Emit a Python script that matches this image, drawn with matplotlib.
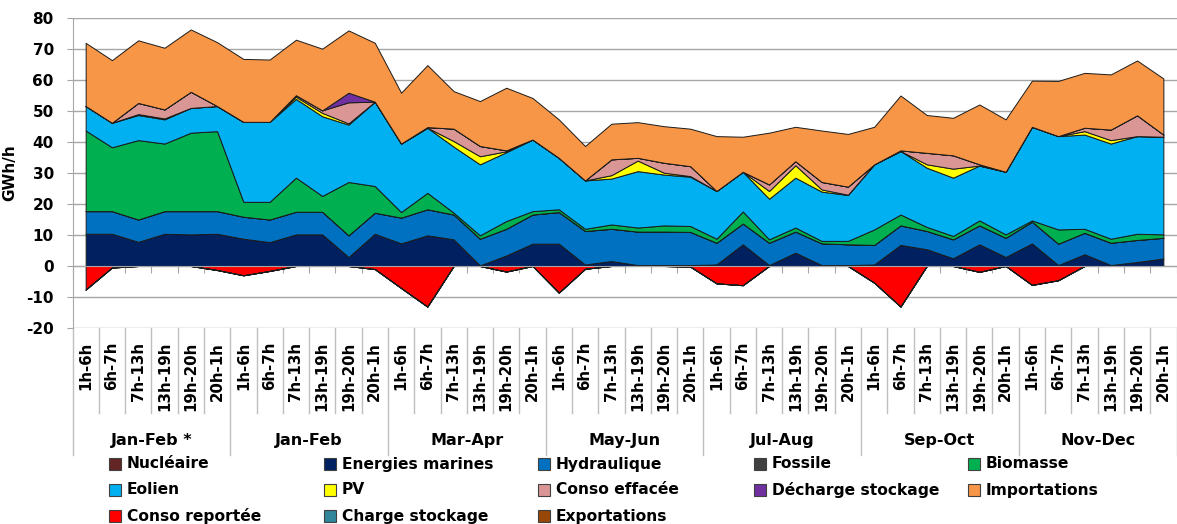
import numpy as np
import matplotlib.pyplot as plt
from matplotlib.patches import Rectangle
from matplotlib.transforms import blended_transform_factory

plt.rcParams['font.family'] = ['DejaVu Sans']
plt.rcParams['font.weight'] = 'bold'
plt.rcParams['axes.unicode_minus'] = False

# Catégories
groupes = ["Jan-Feb *", "Jan-Feb", "Mar-Apr", "May-Jun", "Jul-Aug", "Sep-Oct", "Nov-Dec"]
plages = ["1h-6h", "6h-7h", "7h-13h", "13h-19h", "19h-20h", "20h-1h"]

# Séries positives (GWh/h), 42 valeurs = 7 groupes x 6 plages
nucleaire = [0.0] * 42
energies_marines = [10.4, 10.4, 7.8, 10.4, 10.2, 10.4,
                    8.8, 7.7, 10.2, 10.2, 2.9, 10.4,
                    7.3, 9.9, 8.6, 0.2, 3.4, 7.2,
                    7.2, 0.5, 1.6, 0.3, 0.3, 0.3,
                    0.5, 7.0, 0.3, 4.3, 0.3, 0.3,
                    0.5, 6.8, 5.4, 2.5, 7.0, 2.9,
                    7.3, 0.3, 3.8, 0.3, 1.3, 2.4]
hydraulique = [7.3, 7.3, 7.2, 7.3, 7.5, 7.3,
               7.1, 7.3, 7.3, 7.3, 7.0, 6.8,
               8.3, 8.4, 8.0, 8.6, 8.6, 9.4,
               10.2, 10.8, 10.4, 10.8, 10.8, 10.7,
               7.0, 6.7, 7.2, 6.8, 7.0, 6.7,
               6.3, 6.3, 5.9, 6.1, 6.1, 6.2,
               7.0, 6.9, 6.9, 7.2, 7.1, 6.7]
fossile = [0.0] * 42
biomasse = [26.0, 20.6, 25.6, 21.8, 25.3, 25.8,
            4.8, 5.7, 11.0, 5.1, 17.2, 8.6,
            1.8, 5.3, 0.6, 1.1, 2.5, 1.1,
            0.9, 0.7, 1.4, 1.3, 2.0, 1.9,
            1.3, 3.9, 1.1, 1.3, 0.8, 1.1,
            5.0, 3.5, 1.3, 1.1, 1.6, 1.1,
            0.4, 4.6, 1.3, 1.3, 2.0, 1.1]
eolien = [7.9, 7.9, 8.1, 7.8, 8.0, 8.1,
          25.8, 25.8, 25.4, 25.7, 18.5, 27.2,
          22.1, 21.0, 21.3, 22.9, 22.2, 23.1,
          16.6, 15.6, 14.8, 18.2, 16.4, 15.9,
          15.4, 12.8, 13.1, 16.1, 15.9, 14.8,
          21.0, 20.5, 19.1, 18.8, 17.7, 20.2,
          30.2, 30.1, 30.4, 30.7, 31.5, 31.5]
pv = [0.0, 0.0, 0.3, 0.3, 0.0, 0.0,
      0.0, 0.0, 0.7, 1.1, 0.4, 0.0,
      0.0, 0.0, 1.8, 2.6, 0.3, 0.0,
      0.0, 0.0, 1.1, 3.4, 0.6, 0.2,
      0.0, 0.0, 2.5, 4.0, 0.7, 0.1,
      0.0, 0.0, 1.1, 2.9, 0.0, 0.0,
      0.0, 0.0, 1.1, 1.1, 0.0, 0.0]
conso_effacee = [0.0, 0.0, 3.6, 2.9, 5.2, 0.0,
                 0.0, 0.0, 0.5, 0.8, 6.8, 0.0,
                 0.0, 0.2, 4.0, 3.3, 0.3, 0.0,
                 0.0, 0.0, 5.1, 0.9, 3.2, 3.2,
                 0.0, 0.0, 2.1, 1.3, 2.4, 2.6,
                 0.0, 0.2, 3.7, 4.3, 0.4, 0.0,
                 0.0, 0.0, 1.1, 3.4, 6.7, 0.7]
decharge_stockage = [0.0] * 10 + [3.1] + [0.0] * 31
importations = [20.4, 20.2, 20.2, 19.9, 20.1, 20.6,
                20.3, 20.1, 17.9, 19.9, 20.1, 19.0,
                16.4, 20.0, 12.1, 14.5, 20.2, 13.4,
                12.4, 11.1, 11.5, 11.5, 11.8, 12.1,
                17.7, 11.3, 16.7, 11.1, 16.6, 17.0,
                12.1, 17.7, 12.2, 12.1, 19.3, 16.9,
                14.9, 17.8, 17.7, 17.8, 17.7, 18.1]

# Séries négatives
conso_reportee = [-7.6, -0.5, 0.0, 0.0, 0.0, -1.3,
                  -3.0, -1.6, 0.0, 0.0, 0.0, -1.0,
                  -7.1, -13.1, 0.0, 0.0, -1.8, 0.0,
                  -8.6, -0.9, 0.0, 0.0, 0.0, -0.2,
                  -5.6, -6.2, 0.0, 0.0, 0.0, 0.0,
                  -5.4, -13.1, 0.0, 0.0, -1.9, 0.0,
                  -6.1, -4.6, 0.0, 0.0, 0.0, 0.0]
charge_stockage = [0.0] * 42
exportations = [0.0] * 42

noms_pos = ["Nucléaire", "Energies marines", "Hydraulique", "Fossile", "Biomasse",
            "Eolien", "PV", "Conso effacée", "Décharge stockage", "Importations"]
couleurs_pos = ["#632523", "#002060", "#0070C0", "#404040", "#00B050",
                "#00B0F0", "#FFFF00", "#DA9694", "#7030A0", "#F79646"]
noms_neg = ["Conso reportée", "Charge stockage", "Exportations"]
couleurs_neg = ["#FF0000", "#31869B", "#974706"]

n = len(groupes) * len(plages)
x = np.arange(n)

fig = plt.figure(figsize=(11.77, 5.24), dpi=100)
ax = fig.add_axes([72.5 / 1177, 1 - 328 / 524, 1104 / 1177, 310 / 524])

ax.stackplot(x, nucleaire, energies_marines, hydraulique, fossile, biomasse,
             eolien, pv, conso_effacee, decharge_stockage, importations,
             colors=couleurs_pos, edgecolor="#1a1a1a", linewidth=0.7)
ax.stackplot(x, conso_reportee, charge_stockage, exportations,
             colors=couleurs_neg, edgecolor="#1a1a1a", linewidth=0.7)

ax.set_xlim(-0.5, n - 0.5)
ax.set_ylim(-20, 80)
ax.set_yticks(np.arange(-20, 81, 10))
ax.tick_params(axis="y", length=4.5, color="#a6a6a6", labelsize=11, pad=9)
ax.grid(axis="y", color="#a6a6a6", linewidth=1)
ax.set_axisbelow(True)
ax.set_ylabel("GWh/h", fontsize=11, fontweight="bold")
ax.yaxis.set_label_coords(-55 / 1104, 0.5)

# axe horizontal à 0 avec petites graduations
for s in ["top", "right"]:
    ax.spines[s].set_visible(False)
ax.spines["left"].set_color("#a6a6a6")
ax.spines["bottom"].set_position(("data", 0))
ax.spines["bottom"].set_color("#a6a6a6")
ax.set_xticks(np.arange(-0.5, n, 1))
ax.set_xticklabels([])
ax.tick_params(axis="x", length=5, color="#a6a6a6", direction="out")

# étiquettes de catégories à deux niveaux sous le graphique
tr = blended_transform_factory(ax.transData, ax.transAxes)
for i in range(n + 1):
    bas = -0.41 if i % len(plages) == 0 else -0.274
    ax.plot([i - 0.5, i - 0.5], [0, bas], transform=tr, color="#bfbfbf",
            linewidth=1, clip_on=False)
for i in range(n):
    ax.text(i, -0.045, plages[i % len(plages)], transform=tr, rotation=90,
            ha="center", va="top", fontsize=10.8, fontweight="bold")
for g, nom in enumerate(groupes):
    ax.text(g * len(plages) + 2.5, -0.363, nom, transform=tr,
            ha="center", va="center", fontsize=11.5, fontweight="bold")

# légende en grille 5 colonnes x 3 lignes, ordre ligne par ligne
noms = noms_pos + noms_neg
couleurs = couleurs_pos + couleurs_neg
col_x = [109, 324, 538, 754, 968]
lig_y = [464, 490, 516]
for k, (nom, c) in enumerate(zip(noms, couleurs)):
    px = col_x[k % 5]
    py = lig_y[k // 5]
    fig.patches.append(Rectangle((px / 1177, 1 - (py + 6) / 524), 12 / 1177, 12 / 524,
                                 transform=fig.transFigure, facecolor=c,
                                 edgecolor="#404040", linewidth=0.8))
    fig.text((px + 18) / 1177, 1 - py / 524, nom, ha="left", va="center",
             fontsize=11.2, fontweight="bold")

fig.savefig("out.png", dpi=100)
